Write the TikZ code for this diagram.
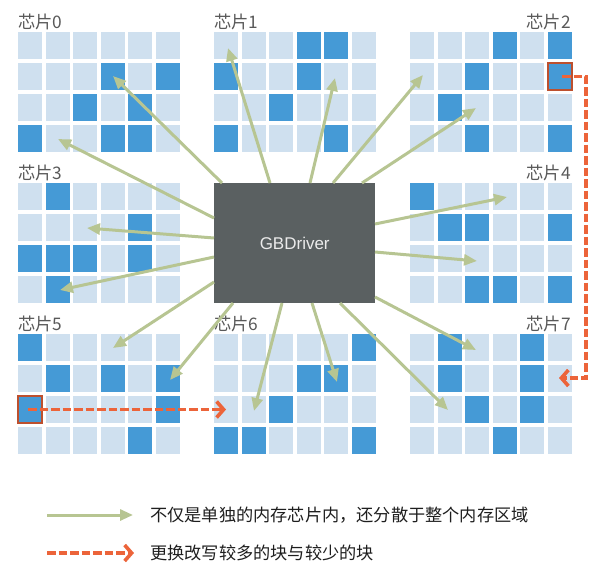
\documentclass[tikz,border=0pt]{standalone}
\usepackage{fontspec}
\setmainfont{Liberation Sans}
\newfontfamily\cjk{Noto Sans CJK SC}
\usetikzlibrary{arrows.meta}
\definecolor{cellL}{RGB}{207,224,239}
\definecolor{cellD}{RGB}{69,154,214}
\definecolor{grn}{RGB}{183,197,146}
\definecolor{org}{RGB}{236,100,58}
\definecolor{drvgray}{RGB}{90,96,97}
\definecolor{lbl}{RGB}{89,89,89}
\definecolor{txt}{RGB}{30,30,30}
\newcommand{\chipgrid}[3]{%
  \foreach \cc in {0,...,5}{\foreach \rr in {0,...,3}{%
    \fill[cellL] ({#1+\cc*27.6},{#2+\rr*31}) rectangle ++(24,27);}}
  \foreach \cc/\rr in {#3}{%
    \fill[cellD] ({#1+\cc*27.6},{#2+\rr*31}) rectangle ++(24,27);}%
}
\begin{document}
\begin{tikzpicture}[x=1pt,y=-1pt,
  chiplab/.style={font=\cjk\fontsize{17.3}{19}\selectfont, text=lbl, inner sep=0pt},
  legtext/.style={font=\cjk\fontsize{17.2}{19}\selectfont, text=txt, inner sep=0pt, anchor=west},
  garrow/.style={draw=grn, line width=3pt, -{Triangle[length=13pt,width=11pt]}},
  oarrow/.style={draw=org, line width=3.6pt, dash pattern=on 8.5pt off 3pt, -{Straight Barb[length=7pt,width=16pt]}},
  hilite/.style={draw=org!80!black, line width=1.5pt},
  drvbox/.style={fill=drvgray, minimum width=161pt, minimum height=120pt, inner sep=0pt, anchor=north west,
    text=white!92!black, font=\fontsize{17}{20}\selectfont}
]
\useasboundingbox (0,0) rectangle (597,565);
% chips
\chipgrid{18}{32}{3/1,5/1,2/2,4/2,0/3,3/3,4/3}
\chipgrid{214}{32}{3/0,4/0,0/1,3/1,2/2,0/3,4/3}
\chipgrid{410}{32}{3/0,5/0,2/1,5/1,1/2,2/3,5/3}
\chipgrid{18}{183}{1/0,4/1,0/2,1/2,2/2,4/2,1/3}
\chipgrid{410}{183}{0/0,1/1,2/1,5/1,2/3,3/3,5/3}
\chipgrid{18}{334}{0/0,1/1,3/1,5/1,0/2,5/2,4/3}
\chipgrid{214}{334}{5/0,3/1,4/1,2/2,0/3,1/3,5/3}
\chipgrid{410}{334}{1/0,4/0,1/1,4/1,2/2,4/2,3/3}
% highlighted cells
\draw[hilite] (548,63) rectangle ++(24,27);
\draw[hilite] (18,396) rectangle ++(24,27);
% labels
\node[chiplab, anchor=base west] (l0) at (18,28) {芯片0};
\node[chiplab, anchor=base west] (l1) at (214,28) {芯片1};
\node[chiplab, anchor=base east] (l2) at (571,28) {芯片2};
\node[chiplab, anchor=base west] (l3) at (18,179) {芯片3};
\node[chiplab, anchor=base east] (l4) at (571,179) {芯片4};
\node[chiplab, anchor=base west] (l5) at (18,330) {芯片5};
\node[chiplab, anchor=base west] (l6) at (214,330) {芯片6};
\node[chiplab, anchor=base east] (l7) at (571,330) {芯片7};
% driver box
\node[drvbox] (drv) at (214,183) {GBDriver};
% arrow endpoints
\coordinate (s1) at (222,183);  \coordinate (t1) at (113,76);
\coordinate (s2) at (214,218);  \coordinate (t2) at (58,139);
\coordinate (s3) at (214,238);  \coordinate (t3) at (87,228);
\coordinate (s4) at (214,257);  \coordinate (t4) at (60,290);
\coordinate (s5) at (214,282);  \coordinate (t5) at (113,348);
\coordinate (s6) at (233,303);  \coordinate (t6) at (170,380);
\coordinate (s7) at (282,303);  \coordinate (t7) at (254,411);
\coordinate (s8) at (312,303);  \coordinate (t8) at (337,382);
\coordinate (s9) at (340,303);  \coordinate (t9) at (448,410);
\coordinate (s10) at (375,297); \coordinate (t10) at (476,350);
\coordinate (s11) at (375,252); \coordinate (t11) at (477,261);
\coordinate (s12) at (375,224); \coordinate (t12) at (507,197);
\coordinate (s13) at (362,183); \coordinate (t13) at (476,108);
\coordinate (s14) at (333,183); \coordinate (t14) at (423,75);
\coordinate (s15) at (310,183); \coordinate (t15) at (335,78);
\coordinate (s16) at (270,183); \coordinate (t16) at (228,48);
\foreach \i in {1,...,16}{\draw[garrow] (s\i) -- (t\i);}
% swap arrows
\coordinate (h1) at (562,76.5);
\coordinate (k1) at (586,76.5);
\coordinate (k2) at (586,378);
\coordinate (e1) at (559,378);
\draw[oarrow] (h1) -- (k1) -- (k2) -- (e1);
\coordinate (h2) at (28,409.5);
\coordinate (e2) at (226,409.5);
\draw[oarrow] (h2) -- (e2);
% legend
\coordinate (ga) at (47,515); \coordinate (gb) at (133,515);
\draw[garrow] (ga) -- (gb);
\node[legtext] (lt1) at (150,515) {不仅是单独的内存芯片内，还分散于整个内存区域};
\coordinate (oa) at (47,553); \coordinate (ob) at (134,553);
\draw[oarrow] (oa) -- (ob);
\node[legtext] (lt2) at (150,553) {更换改写较多的块与较少的块};
\end{tikzpicture}
\end{document}
